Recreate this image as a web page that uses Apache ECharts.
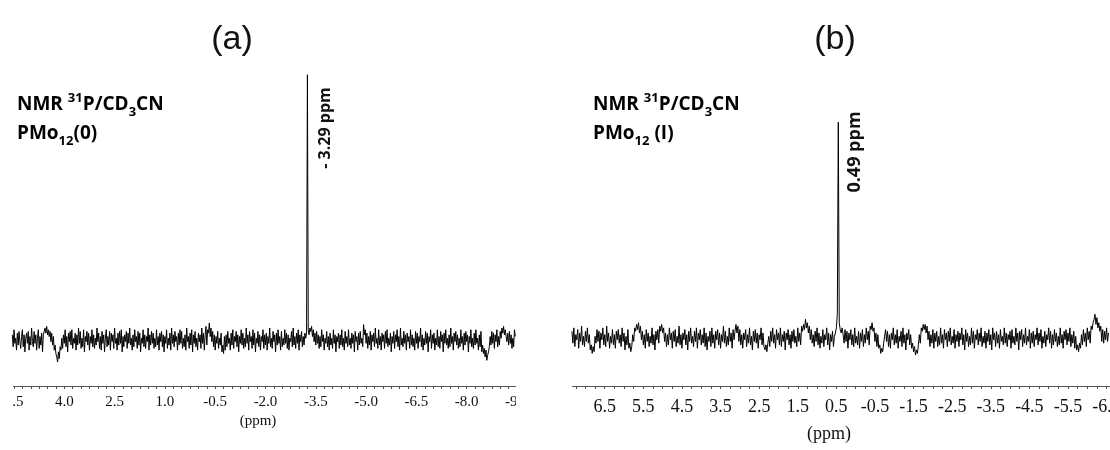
<!DOCTYPE html>
<html>
<head>
<meta charset="utf-8">
<script src="https://cdn.jsdelivr.net/npm/echarts@6/dist/echarts.min.js"></script>
<style>html,body{margin:0;padding:0;background:#fff}#c{width:1110px;height:450px}</style>
</head>
<body>
<div id="c"></div>
<script>
// Panel (a): sampled spectrum, ppm from startA downward in steps of stepA
const startA = 5.55, stepA = 0.025;
const valuesA = [
3,-4,6,-2,1,-6,4,-3,5,-1,-5,2,6,-4,3,-7,1,4,-2,5,-6,2,-3,7,-1,
-4,5,-2,3,-6,1,6,-5,2,-3,4,-7,3,5,7,4,8,3,6,2,5,-1,4,-3,2,
-6,-3,-8,-10,-13,-7,-11,-4,-6,1,-5,3,-2,6,-4,2,-7,4,-1,5,-3,6,-5,1,-2,
4,-6,3,-3,7,-2,5,-5,1,-4,6,-7,2,-1,5,-3,4,-6,2,-2,6,-4,3,-5,1,
-3,7,-1,4,-5,2,-6,5,-2,3,-7,1,6,-4,2,-3,5,-6,4,-1,3,-5,7,-2,1,
-6,4,-3,5,-2,6,-7,2,-4,3,-1,5,-5,4,-2,7,-3,1,-6,3,-4,6,-1,2,-5,
5,-3,4,-7,1,-2,6,-4,3,-5,2,-1,7,-6,3,-3,5,-2,4,-5,1,-4,6,-3,2,
-6,4,-1,5,-4,3,-7,2,-2,6,-5,1,-3,4,-6,7,-2,3,-4,5,-1,2,-6,4,-3,
6,-2,5,-5,1,-4,3,-6,7,-1,2,-5,4,-3,6,-7,3,-2,5,-4,1,-6,4,-1,3,
-5,7,-2,4,-6,3,8,-3,6,4,10,2,7,-1,5,-4,3,-6,2,-2,5,-5,1,-3,4,
-7,-3,-8,2,-6,3,-4,5,-2,1,-6,4,-3,6,-5,2,-1,5,-4,3,-7,2,-2,6,-3,
4,-5,1,-4,7,-2,3,-6,5,-1,2,-5,6,-3,4,-7,1,-2,5,-4,3,-6,2,-1,6,
-5,3,-3,4,-6,2,-2,7,-4,1,-5,5,-1,3,-7,4,-3,6,-2,2,-6,5,-4,1,-3,
6,-2,4,-5,3,-6,1,-1,5,-4,7,-3,2,-5,4,-2,6,-6,3,-1,5,-4,2,-3,4,
1,4,156,6,3,7,5,8,2,6,-1,4,-3,5,-2,3,-5,2,-4,6,-1,3,-6,1,-2,
5,-4,2,-6,4,-3,1,-5,6,-2,3,-7,2,-1,4,-5,3,-3,6,-4,1,-6,5,-2,2,
-4,6,-3,1,-5,4,-2,3,-7,5,-1,2,-6,4,-3,5,-2,1,-4,9,3,6,-2,4,-5,
2,-3,5,-6,3,-1,4,-4,7,-2,1,-5,6,-3,2,-6,4,-1,3,-5,5,-2,6,-4,1,
-3,4,-7,2,-2,5,-5,3,-1,6,-4,2,-6,7,-3,1,-4,5,-2,3,-6,4,-1,2,-5,
6,-3,3,-4,1,-6,5,-2,4,-5,2,-1,7,-4,3,-6,1,-3,5,-2,4,-7,2,-1,6,
-5,3,-2,4,-6,1,-3,6,-4,2,-5,5,-1,3,-7,4,-2,6,-3,1,-5,3,-4,7,-2,
2,-6,4,-1,5,-3,3,-5,1,-4,6,-2,2,-6,4,-3,5,-1,3,-7,2,-2,6,-4,1,
-5,4,-3,6,-2,1,-6,3,-4,5,-7,-3,-8,-5,-10,-6,-12,-9,-7,-4,2,-3,5,-2,4,
-5,3,-1,6,-4,2,-3,5,1,7,4,8,3,6,2,-1,4,-3,5,-2,3,-5,1,-4,6,
2
];
const labelsA = [5.5,4.0,2.5,1.0,-0.5,-2.0,-3.5,-5.0,-6.5,-8.0,-9.5];

// Panel (b)
const startB = 7.35, stepB = 0.025;
const valuesB = [
4,-3,6,-5,2,-1,5,-6,3,-2,7,-4,1,-5,4,-2,6,-3,2,-7,-4,-9,-5,-8,1,
-3,5,-2,4,-6,3,-1,6,-4,2,-5,7,-2,3,-6,1,-3,5,-4,2,-6,4,-1,5,-3,
2,-5,6,-2,3,-7,1,-4,5,-6,-3,-8,-5,2,-2,6,4,8,5,9,3,7,-1,4,-4,
2,-6,5,-2,3,-5,1,-3,6,-4,2,-7,4,-1,5,-3,7,4,8,3,6,-2,3,-5,2,
-4,6,-1,3,-6,4,-2,5,-5,1,-3,7,-4,2,-6,3,-1,5,-4,2,-7,4,-2,6,-3,
1,-5,4,-2,6,-6,3,-1,5,-4,2,-3,6,-5,3,-7,1,-2,4,-5,6,-3,2,-6,4,
-1,5,-4,3,-6,2,-2,7,-3,4,-5,1,-4,6,-2,3,-6,5,-1,4,8,3,7,-2,5,
-4,2,-6,3,-1,5,-5,2,-3,6,-4,1,-7,4,-2,5,-3,3,-6,2,-1,6,-4,3,-5,
-7,-4,-8,-3,1,-5,4,-2,6,-3,2,-6,5,-1,3,-4,6,-5,2,-2,4,-7,3,-1,5,
-4,2,-6,4,-2,5,-3,1,-5,6,-2,3,-4,7,4,8,5,11,6,9,3,7,-1,5,-3,
2,-5,4,-2,6,-4,3,-6,1,-3,5,-5,2,-1,6,-4,3,-7,2,-2,4,-5,1,3,6,
14,127,9,5,3,6,2,-3,5,-2,4,-6,3,-1,5,-4,2,-5,6,-3,1,-4,4,-6,3,
-2,5,-5,2,-3,6,-1,4,-4,7,5,9,4,6,-2,3,-5,2,-6,-4,-9,-6,-8,-3,1,
5,-2,4,-5,2,-6,3,-1,6,-4,2,-3,5,-6,1,-2,4,-5,6,-3,2,-7,3,-1,5,
-4,2,-6,-3,-8,-5,-10,-7,-9,-4,2,-3,6,4,8,5,8,3,7,-1,4,-5,2,-3,5,
-6,3,-2,4,-5,1,-4,6,-3,2,-6,5,-1,3,-5,4,-2,6,-4,1,-3,5,-6,2,-2,
4,-5,3,-1,6,-4,2,-7,5,-2,3,-5,1,-4,6,-3,4,-6,2,-1,5,-4,3,-2,6,
-5,1,-3,4,-6,3,-2,5,-4,2,-7,6,-1,3,-5,4,-3,2,-6,5,-2,1,-4,6,-3,
3,-5,2,-1,4,-6,5,-3,1,-4,6,-2,3,-7,4,-1,5,-5,2,-3,6,-4,1,-2,5,
-6,3,-3,4,-5,2,-1,6,-4,3,-2,5,-6,1,-3,4,-5,2,-1,6,-3,4,-6,2,-4,
5,-2,3,-5,1,-4,6,-3,2,-6,4,-1,5,-4,3,-2,6,-5,2,-3,4,-6,1,-7,-4,
-8,-3,-6,2,-4,5,-2,3,-5,6,-1,4,-3,7,5,9,11,14,8,12,6,9,4,7,-2,
5,-3,4,-1,6,-2,3
];
const labelsB = [6.5,5.5,4.5,3.5,2.5,1.5,0.5,-0.5,-1.5,-2.5,-3.5,-4.5,-5.5,-6.5];

const panelTitles = ['(a)', '(b)'];
const peakLabels = ['- 3.29 ppm', '0.49 ppm'];
const sampleNames = ['PMo', 'PMo'];
const sampleSuffix = ['(0)', ' (I)'];

function ticks(from, to, step) {
  const out = [];
  for (let v = from; v >= to - 1e-9; v -= step) out.push(Math.round(v * 100) / 100);
  return out;
}
const ser = (start, step, vals) => vals.map((v, i) => [Math.round((start - i * step) * 1000) / 1000, v]);

const chart = echarts.init(document.getElementById('c'), null, {renderer: 'canvas'});

const xBase = (min, max, labels, tickList, fontSize, margin) => ({
  type: 'value', inverse: true, min: min, max: max,
  axisLine: {show: true, onZero: false, lineStyle: {color: '#555', width: 1}},
  axisTick: {show: true, length: 3, inside: false, customValues: tickList, lineStyle: {color: '#555'}},
  axisLabel: {show: true, customValues: labels, margin: margin, showMinLabel: true, showMaxLabel: true,
    hideOverlap: false, formatter: v => v.toFixed(1), color: '#111', fontFamily: 'Liberation Serif', fontSize: fontSize},
  splitLine: {show: false}
});

const nmrRich = (fs, lh) => ({
  b: {fontFamily: 'Open Sans', fontWeight: 'bold', fontSize: fs, lineHeight: lh, color: '#111'},
  sup: {fontFamily: 'Open Sans', fontWeight: 'bold', fontSize: Math.round(fs * 0.68), lineHeight: lh, verticalAlign: 'top', padding: [2,0,0,0], color: '#111'},
  sub: {fontFamily: 'Open Sans', fontWeight: 'bold', fontSize: Math.round(fs * 0.68), lineHeight: lh, verticalAlign: 'bottom', padding: [0,0,0,0], color: '#111'}
});

function textBlock(x, y, idx) {
  return {
    type: 'text', left: x, top: y, z: 100,
    style: {
      text: '{b|NMR }{sup|31}{b|P/CD}{sub|3}{b|CN}\n{b|' + sampleNames[idx] + '}{sub|12}{b|' + sampleSuffix[idx] + '}',
      rich: nmrRich(19, 29)
    }
  };
}

chart.setOption({
  animation: false,
  backgroundColor: '#fff',
  grid: [
    {left: 10.65, width: 509.7, top: 70, bottom: 64, containLabel: false, outerBoundsMode: 'none'},
    {left: 570, width: 544.3, top: 70, bottom: 64, containLabel: false, outerBoundsMode: 'none'}
  ],
  xAxis: [
    Object.assign(xBase(-9.6, 5.6, labelsA, ticks(5.5, -9.5, 0.25), 15, 9), {gridIndex: 0}),
    Object.assign(xBase(-6.7, 7.4, labelsB, ticks(7.25, -6.5, 0.25), 18, 12), {gridIndex: 1})
  ],
  yAxis: [
    {type: 'value', gridIndex: 0, min: -27.1, max: 158.8, show: false},
    {type: 'value', gridIndex: 1, min: -28.2, max: 157.7, show: false}
  ],
  series: [
    {type: 'line', xAxisIndex: 0, yAxisIndex: 0, data: ser(startA, stepA, valuesA), symbol: 'none',
      lineStyle: {color: '#000', width: 1}, silent: true},
    {type: 'line', xAxisIndex: 1, yAxisIndex: 1, data: ser(startB, stepB, valuesB), symbol: 'none',
      lineStyle: {color: '#000', width: 1}, silent: true}
  ],
  graphic: [
    {type: 'rect', z: 90, shape: {x: 0, y: 376, width: 13, height: 74}, style: {fill: '#fff'}},
    {type: 'rect', z: 90, shape: {x: 516, y: 376, width: 56, height: 74}, style: {fill: '#fff'}},
    {type: 'text', z: 100, x: 232, y: 40, style: {text: panelTitles[0], font: '34px "Liberation Sans"', fill: '#111', align: 'center', verticalAlign: 'middle'}},
    {type: 'text', z: 100, x: 835, y: 40, style: {text: panelTitles[1], font: '34px "Liberation Sans"', fill: '#111', align: 'center', verticalAlign: 'middle'}},
    textBlock(17, 90, 0),
    textBlock(593, 90, 1),
    {type: 'text', z: 100, x: 325, y: 128, rotation: Math.PI / 2,
      style: {text: peakLabels[0], font: 'bold 16px "Open Sans"', fill: '#111', align: 'center', verticalAlign: 'middle'}},
    {type: 'text', z: 100, x: 855, y: 152, rotation: Math.PI / 2,
      style: {text: peakLabels[1], font: 'bold 18px "Open Sans"', fill: '#111', align: 'center', verticalAlign: 'middle'}},
    {type: 'text', z: 100, x: 258, y: 421, style: {text: '(ppm)', font: '15px "Liberation Serif"', fill: '#111', align: 'center', verticalAlign: 'middle'}},
    {type: 'text', z: 100, x: 829, y: 434, style: {text: '(ppm)', font: '18px "Liberation Serif"', fill: '#111', align: 'center', verticalAlign: 'middle'}}
  ]
});
</script>
</body>
</html>
